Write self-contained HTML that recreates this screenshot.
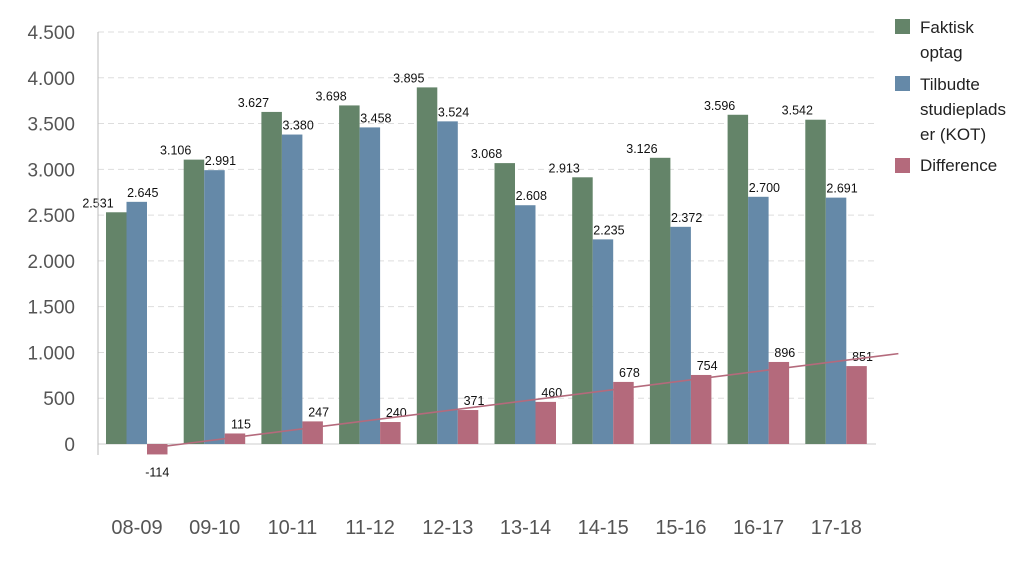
<!DOCTYPE html>
<html><head><meta charset="utf-8"><style>
body{margin:0;background:#fff;font-family:"Liberation Sans",sans-serif}
svg text{font-family:"Liberation Sans",sans-serif}
</style></head><body>
<svg width="1024" height="557" viewBox="0 0 1024 557">
<g id="grid"></g><g id="bars"></g><g id="labels"></g>
<line x1="98" y1="32" x2="98" y2="455" stroke="#bbb" stroke-width="1"/>
<g>
<rect x="895" y="19" width="15" height="15" fill="#648469"/>
<text x="920" y="33" font-size="17" fill="#222">Faktisk</text>
<text x="920" y="58" font-size="17" fill="#222">optag</text>
<rect x="895" y="76" width="15" height="15" fill="#6589a8"/>
<text x="920" y="90" font-size="17" fill="#222">Tilbudte</text>
<text x="920" y="115" font-size="17" fill="#222">studieplads</text>
<text x="920" y="140" font-size="17" fill="#222">er (KOT)</text>
<rect x="895" y="158" width="15" height="15" fill="#b46a7c"/>
<text x="920" y="171" font-size="17" fill="#222">Difference</text>
</g>
</svg>
<script>
const categories=["08-09","09-10","10-11","11-12","12-13","13-14","14-15","15-16","16-17","17-18"];
const faktisk=[2531,3106,3627,3698,3895,3068,2913,3126,3596,3542];
const tilbudte=[2645,2991,3380,3458,3524,2608,2235,2372,2700,2691];
const difference=[-114,115,247,240,371,460,678,754,896,851];
const yTicks=[0,500,1000,1500,2000,2500,3000,3500,4000,4500];
const yTickLabels=["0","500","1.000","1.500","2.000","2.500","3.000","3.500","4.000","4.500"];
const NS="http://www.w3.org/2000/svg";
const y=v=>444-v*(412/4500);
const x0=i=>106+i*77.7;
const bw=20.5;
const fmt=v=>{const s=Math.abs(v)>=1000?Math.floor(Math.abs(v)/1000)+"."+String(Math.abs(v)%1000).padStart(3,"0"):String(Math.abs(v));return (v<0?"-":"")+s;};
function mk(tag,attrs,parent){const e=document.createElementNS(NS,tag);for(const k in attrs)e.setAttribute(k,attrs[k]);document.getElementById(parent).appendChild(e);return e;}
yTicks.forEach((t,i)=>{
 if(t>0){const l=mk("line",{x1:98,x2:876,y1:y(t),y2:y(t),stroke:"#ddd","stroke-dasharray":"6,4"},"grid");
 
 }
 const tx=mk("text",{x:75,y:y(t)+7,"font-size":19,fill:"#555","text-anchor":"end"},"grid");tx.textContent=yTickLabels[i];
 
 
});
const zl=mk("line",{x1:98,x2:876,y1:y(0),y2:y(0),stroke:"#ccc"},"grid");


const series=[[faktisk,"#648469","bar-faktisk"],[tilbudte,"#6589a8","bar-tilbudte"],[difference,"#b46a7c","bar-difference"]];
categories.forEach((c,i)=>{
 series.forEach(([arr,col,nm],s)=>{
  const v=arr[i],bx=x0(i)+s*bw;
  const r=mk("rect",{x:bx,y:Math.min(y(v),y(0)),width:bw,height:Math.abs(y(v)-y(0)),fill:col},"bars");
  
  
  const lx=s==0?bx-8:s==1?bx+bw/2+6:bx+bw/2+6;
  const ly=v<0?y(v)+22:y(v)-5;
  const t=mk("text",{x:s==2&&v<0?bx+bw/2:lx,y:ly,"font-size":12.5,fill:"#111","text-anchor":"middle"},"labels");
  t.textContent=fmt(v);
  
  
 });
 const xl=mk("text",{x:x0(i)+31,y:534,"font-size":20,fill:"#555","text-anchor":"middle"},"labels");
 xl.textContent=c;
 
 
});
// linear trendline of difference
const n=difference.length,mx=(n-1)/2,my=difference.reduce((a,b)=>a+b,0)/n;
let sxy=0,sxx=0;difference.forEach((v,i)=>{sxy+=(i-mx)*(v-my);sxx+=(i-mx)*(i-mx);});
const slope=sxy/sxx,icp=my-slope*mx;
const xs=-0.05,xe=9.4;
const cx=i=>x0(i)+2.5*bw-bw/2+0;
const tl=mk("line",{x1:x0(0)+41,y1:y(icp+slope*xs),x2:x0(xe)+62,y2:y(icp+slope*xe),stroke:"#b46a7c","stroke-width":1.6},"labels");


</script>
</body></html>
